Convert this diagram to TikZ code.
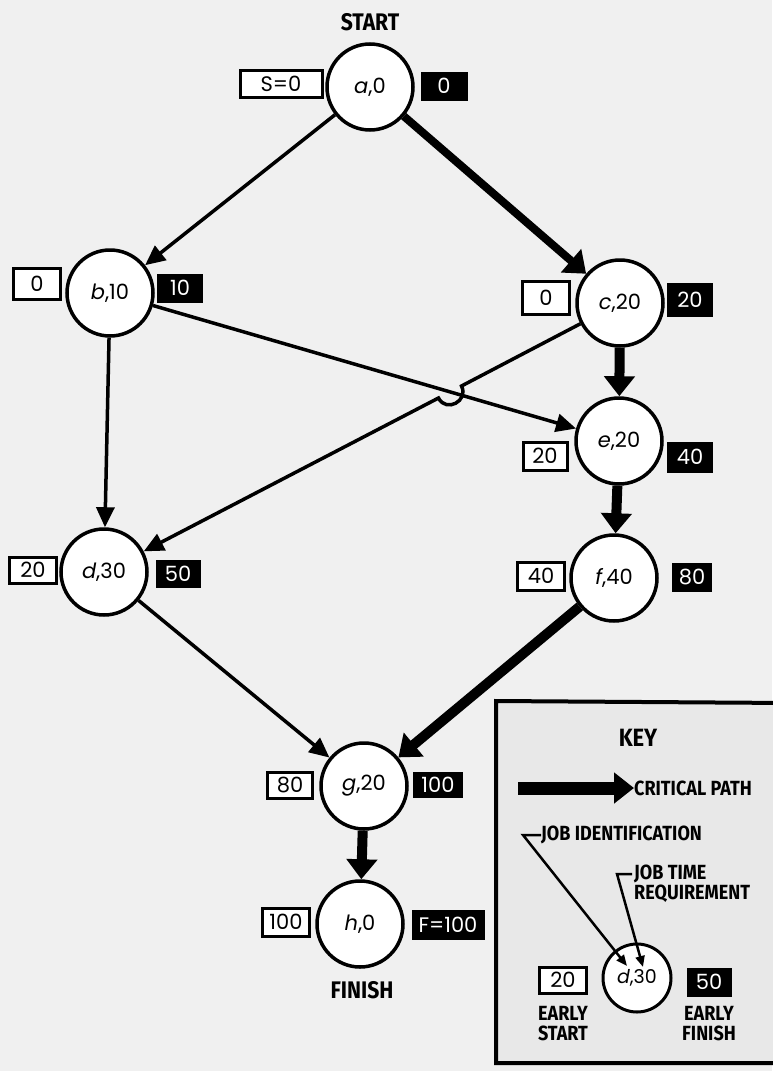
\documentclass[tikz,border=0pt]{standalone}
\usepackage{fontspec}
\setmainfont{Poppins}
\newfontfamily\capfont[FakeStretch=0.88]{Fira Sans}
\usetikzlibrary{arrows.meta}
\begin{document}
\begin{tikzpicture}[x=1pt,y=-1pt,
  job/.style={circle,draw=black,fill=white,line width=3.5pt,minimum size=86pt,inner sep=0pt,font=\fontsize{21}{21}\selectfont},
  es/.style={draw=black,fill=white,line width=3pt,inner sep=0pt,minimum width=47pt,minimum height=28pt,font=\fontsize{21}{21}\selectfont},
  ef/.style={fill=black,text=white,inner sep=0pt,minimum width=46pt,minimum height=29pt,font=\fontsize{21}{21}\selectfont},
  captxt/.style={font=\capfont\bfseries\fontsize{24}{24}\selectfont,inner sep=0pt},
  keytxt/.style={font=\capfont\bfseries\fontsize{20.5}{20}\selectfont,inner sep=0pt},
  normarrow/.style={line width=3.5pt,-{Triangle[length=20pt,width=18pt]}},
  critarrow/.style={line width=10pt,-{Triangle[length=20pt,width=30pt]}},
  leader/.style={line width=2.5pt,-{Triangle[length=11pt,width=9pt]}},
]
\useasboundingbox (0,0) rectangle (772,1071);
\fill[black!6] (0,0) rectangle (772,1071);

% key frame
\draw[line width=4pt,fill=black!9] (496,701) -- (790,703) -- (790,1063) -- (496,1063) -- cycle;

% job nodes
\node[job] (a) at (370,87) {\textit{a},0};
\node[job] (b) at (110,293) {\textit{b},10};
\node[job] (c) at (620,303) {\textit{c},20};
\node[job] (e) at (619,441) {\textit{e},20};
\node[job] (d) at (104,572) {\textit{d},30};
\node[job] (f) at (614,578) {\textit{f},40};
\node[job] (g) at (364,786) {\textit{g},20};
\node[job] (h) at (360,924) {\textit{h},0};

% start / finish
\node[captxt] (start) at (370,22) {START};
\node[captxt] (finish) at (362,990) {FINISH};

% early start boxes
\node[es,minimum width=82pt,minimum height=27pt] (esa) at (281,84) {S=0};
\node[es,minimum height=31pt] (esb) at (37,284) {0};
\node[es,minimum height=33pt] (esc) at (546,298) {0};
\node[es,minimum width=44pt] (ese) at (545,456) {20};
\node[es,minimum height=26pt] (esd) at (33,570) {20};
\node[es] (esf) at (541,576) {40};
\node[es,minimum width=45pt,minimum height=26pt] (esg) at (290,785) {80};
\node[es] (esh) at (286,922) {100};

% early finish boxes
\node[ef,minimum width=47pt] (efa) at (444,86) {0};
\node[ef] (efb) at (180,288) {10};
\node[ef,minimum height=34pt] (efc) at (690,300) {20};
\node[ef,minimum height=31pt] (efe) at (690,457) {40};
\node[ef,minimum width=45pt,minimum height=28pt] (efd) at (178,574) {50};
\node[ef,minimum width=40pt] (eff) at (692,577) {80};
\node[ef,minimum width=50pt,minimum height=26pt] (efg) at (438,785) {100};
\node[ef,minimum width=73pt,minimum height=30pt] (efh) at (448,925) {F=100};

% connectors
\draw[normarrow] (a) -- (b);
\draw[critarrow,line width=8pt] (a) -- (c);
\draw[normarrow] (b) -- (d);
\draw[normarrow] (b) -- (e);
\coordinate (hop1) at (461.5,386);
\coordinate (hop2) at (438.5,398);
\draw[normarrow] (c) -- (hop1) .. controls (469,401) and (446,413) .. (hop2) -- (d);
\draw[critarrow] (c) -- (e);
\draw[critarrow] (e) -- (f);
\draw[normarrow] (d) -- (g);
\draw[critarrow] (f) -- (g);
\draw[critarrow] (g) -- (h);

% key
\node[captxt,font=\capfont\bfseries\fontsize{25}{25}\selectfont] (keyt) at (638,738) {KEY};
\node[keytxt,anchor=west] (cp) at (634,788) {CRITICAL PATH};
\coordinate (cpstart) at (518,788);
\draw[line width=13pt,-{Triangle[length=20pt,width=30pt]}] (cpstart) -- (cp.west);
\node[job,minimum size=68pt,line width=3pt,font=\fontsize{19}{19}\selectfont] (kd) at (637,978) {\textit{d},30};
\node[es,minimum height=26pt] (kes) at (563,980) {20};
\node[ef,minimum width=45pt] (kef) at (709,982) {50};
\node[keytxt,align=center] (kest) at (563,1024) {EARLY\\START};
\node[keytxt,align=center] (keft) at (709,1024) {EARLY\\FINISH};
\node[keytxt,anchor=west] (jid) at (541,835) {JOB IDENTIFICATION};
\node[keytxt,anchor=north west,align=left] (jtr) at (634,865) {JOB TIME\\REQUIREMENT};
\coordinate (jidbend) at (523,835);
\coordinate (jidend) at (627,966);
\draw[leader] (jid.west) -- (jidbend) -- (jidend);
\coordinate (jtrstart) at (632,874);
\coordinate (jtrbend) at (617,874);
\coordinate (jtrend) at (643,967);
\draw[leader] (jtrstart) -- (jtrbend) -- (jtrend);
\end{tikzpicture}
\end{document}
